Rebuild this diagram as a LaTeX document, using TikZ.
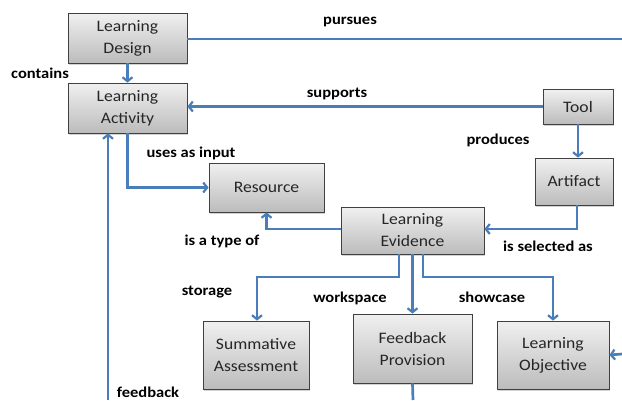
\documentclass[tikz,border=0pt]{standalone}
\usepackage{fontspec}
\setmainfont{Carlito}[FakeStretch=1.1]
\usepackage{xcolor}
\usetikzlibrary{positioning,arrows.meta,shadows}
\definecolor{linkblue}{HTML}{4A7EBB}
\definecolor{boxtop}{HTML}{F0F0F0}
\definecolor{boxbot}{HTML}{BCBCBC}
\tikzset{
    concept/.style={draw=black!75,line width=0.8pt,top color=boxtop,bottom color=boxbot,
        align=center,inner sep=0pt,text=black!85,font=\fontsize{16}{22}\selectfont,
        drop shadow={shadow xshift=1pt,shadow yshift=-1.5pt,opacity=0.35}},
    link/.style={draw=linkblue,line width=2.7pt,-{Straight Barb[length=4pt,width=10pt,line width=2.2pt]}},
    plainlink/.style={draw=linkblue,line width=2.7pt},
    rel/.style={font=\bfseries\fontsize{15}{18}\selectfont,inner sep=0pt}
}

\begin{document}
\begin{tikzpicture}[x=1pt,y=-1pt]
        \useasboundingbox (0,0) rectangle (622,400);
        % Concepts
        \node[concept,minimum width=119pt,minimum height=50pt] (design) at (127.5,38) {Learning\\Design};
        \node[concept,minimum width=119pt,minimum height=50pt] (activity) at (127.5,108) {Learning\\Activity};
        \node[concept,minimum width=70pt,minimum height=35pt] (tool) at (578,106.5) {Tool};
        \node[concept,minimum width=78pt,minimum height=47pt] (artifact) at (574,181.5) {Artifact};
        \node[concept,minimum width=115pt,minimum height=49pt] (resource) at (266.5,187.5) {Resource};
        \node[concept,minimum width=143pt,minimum height=47pt] (evidence) at (412.5,230.5) {Learning\\Evidence};
        \node[concept,minimum width=106pt,minimum height=68pt] (summative) at (256,355) {Summative\\Assessment};
        \node[concept,minimum width=119pt,minimum height=69pt] (provision) at (412.5,348.5) {Feedback\\Provision};
        \node[concept,minimum width=112pt,minimum height=68pt] (objective) at (553,355) {Learning\\Objective};
        % loose ends at the border
        \coordinate (pursuesend) at (622,39);
        \coordinate (feedbackstart) at (108,400);
        \coordinate (provisionend) at (413,400);
        \coordinate (objectivestart) at (622,354);
        \coordinate (storagebend) at (399,277);
        \coordinate (showcasebend) at (423,277);
        % Relations
        \draw[link] (design.south) -- (activity.north);
        \draw[plainlink] (design.east |- pursuesend) -- (pursuesend);
        \draw[link] (tool.west) -- (tool.west -| activity.east);
        \draw[link] (tool.south) -- (tool.south |- artifact.north);
        \draw[link] (activity.south) |- (resource.west);
        \draw[link] (feedbackstart) -- (feedbackstart |- activity.south);
        \draw[link] ([xshift=3pt]artifact.south) |- ([yshift=1.5pt]evidence.east);
        \draw[link] ([yshift=1.5pt]evidence.west) -| (resource.south);
        \draw[link] (storagebend |- evidence.south) -- (storagebend) -| ([xshift=1pt]summative.north);
        \draw[link] (evidence.south) -- (provision.north);
        \draw[link] (showcasebend |- evidence.south) -- (showcasebend) -| (objective.north);
        \draw[plainlink] (provision.south) -- (provisionend);
        \draw[link] (objectivestart) -- (objective.east);
        % Relation names
        \node[rel] (pursues) at (350,22) {pursues};
        \node[rel] (contains) at (40,73) {contains};
        \node[rel] (supports) at (337,94) {supports};
        \node[rel] (produces) at (498,140) {produces};
        \node[rel] (usesinput) at (191,153) {uses as input};
        \node[rel] (typeof) at (222,241) {is a type of};
        \node[rel] (selected) at (548,246) {is selected as};
        \node[rel] (storage) at (207,292) {storage};
        \node[rel] (workspace) at (350,298) {workspace};
        \node[rel] (showcase) at (492,297) {showcase};
        \node[rel] (feedback) at (148,392) {feedback};
\end{tikzpicture}
\end{document}
